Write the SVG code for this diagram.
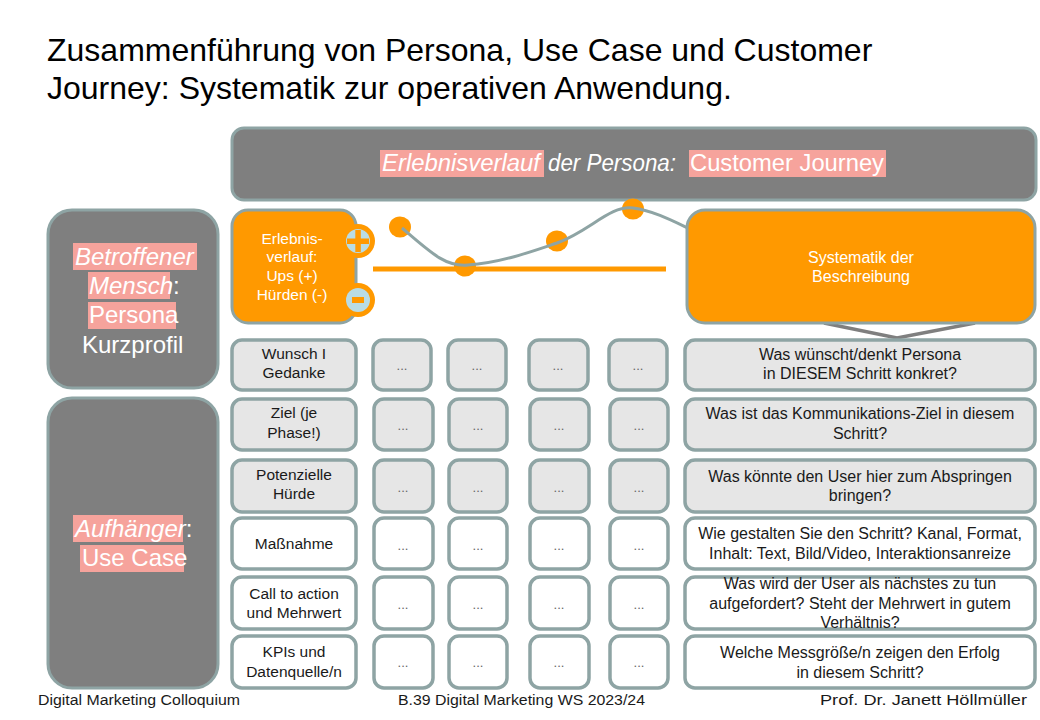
<svg xmlns="http://www.w3.org/2000/svg" width="1040" height="720" viewBox="0 0 1040 720">
<style>
text{font-family:"Liberation Sans",Arial,sans-serif}
.gbox{fill:#7F7F7F;stroke:#8EA4A4;stroke-width:3}
.obox{fill:#FF9900;stroke:#8EA4A4;stroke-width:3}
.lbox{fill:#E6E6E6;stroke:#8EA4A4;stroke-width:3.5}
.wbox{fill:#FFFFFF;stroke:#8EA4A4;stroke-width:3.5}
.hl{fill:#F6A39C}
.wt{fill:#FFFFFF}
.lab{font-size:15.5px;fill:#1A1A1A;text-anchor:middle}
.dots{font-size:13px;fill:#666666;text-anchor:middle}
.q{font-size:16px;fill:#1A1A1A;text-anchor:middle}
.foot{font-size:15.5px;fill:#1A1A1A}
.odot{fill:#FF9900}
.big{font-size:24px;fill:#FFFFFF}
</style>
<rect width="1040" height="720" fill="#FFFFFF"/>
<g id="title">
<text x="47" y="61" font-size="32" fill="#000">Zusammenführung von Persona, Use Case und Customer</text>
<text x="47" y="99" font-size="32" fill="#000">Journey: Systematik zur operativen  Anwendung.</text>
</g>
<g id="banner">
<rect class="gbox" x="232" y="128" width="804" height="72" rx="12"/>
<rect class="hl" x="380" y="150" width="164" height="27"/>
<rect class="hl" x="689" y="150" width="197" height="27"/>
<text x="382" y="171" font-size="23" class="wt" font-style="italic" textLength="158" lengthAdjust="spacingAndGlyphs">Erlebnisverlauf</text>
<text x="548" y="171" font-size="23" class="wt" font-style="italic" textLength="128" lengthAdjust="spacingAndGlyphs">der Persona:</text>
<text x="690" y="171" font-size="23" class="wt" textLength="194" lengthAdjust="spacingAndGlyphs">Customer Journey</text>
</g>
<g id="persona">
<rect class="gbox" x="48" y="210" width="170" height="178" rx="24"/>
<rect class="hl" x="73" y="243" width="124" height="27"/>
<rect class="hl" x="88" y="272" width="82" height="27"/>
<rect class="hl" x="88" y="302" width="88" height="27"/>
<text x="75" y="265" class="big" font-style="italic">Betroffener</text>
<text x="89" y="294" class="big"><tspan font-style="italic">Mensch</tspan>:</text>
<text x="89" y="323" class="big">Persona</text>
<text x="82" y="353" class="big">Kurzprofil</text>
</g>
<g id="usecase">
<rect class="gbox" x="48" y="398" width="170" height="290" rx="24"/>
<rect class="hl" x="73" y="515" width="110" height="27"/>
<rect class="hl" x="80" y="545" width="104" height="27"/>
<text x="75" y="537" class="big"><tspan font-style="italic">Aufhänger</tspan>:</text>
<text x="82" y="566" class="big">Use Case</text>
</g>
<g id="journey-curve">
<line x1="373" y1="269" x2="666" y2="269" stroke="#FF9900" stroke-width="5"/>
<ellipse class="odot" cx="400" cy="227" rx="11" ry="10.5"/>
<ellipse class="odot" cx="465" cy="266" rx="11" ry="10.5"/>
<ellipse class="odot" cx="557" cy="241" rx="11" ry="10.5"/>
<ellipse class="odot" cx="633" cy="209" rx="11" ry="10.5"/>
<path d="M402,228 C430,252 445,267 468,265 C500,263 530,252 557,243 C590,231 610,205 633,208 C655,211 675,222 692,230" fill="none" stroke="#8EA4A4" stroke-width="3"/>
</g>
<g id="erlebnisverlauf">
<rect class="obox" x="232" y="210" width="124" height="113" rx="16"/>
<text x="292" y="244" font-size="15.5" text-anchor="middle" class="wt">Erlebnis-</text>
<text x="292" y="262" font-size="15.5" text-anchor="middle" class="wt">verlauf:</text>
<text x="292" y="281" font-size="15.5" text-anchor="middle" class="wt">Ups (+)</text>
<text x="292" y="300" font-size="15.5" text-anchor="middle" class="wt">Hürden (-)</text>
<circle cx="358" cy="241" r="17" fill="#FF9900"/>
<circle cx="358" cy="241" r="12" fill="#B9DCE4"/>
<rect x="347" y="238.5" width="22" height="5.5" fill="#FF9900"/>
<rect x="355.3" y="230" width="5.5" height="22" fill="#FF9900"/>
<circle cx="358" cy="300" r="17" fill="#FF9900"/>
<circle cx="358" cy="300" r="12" fill="#B9DCE4"/>
<rect x="352" y="297" width="12" height="6" fill="#FF9900"/>
</g>
<g id="systematik">
<polyline points="824,323 897,338 975,323" fill="none" stroke="#7F7F7F" stroke-width="3.5"/>
<rect class="obox" x="687" y="210" width="348" height="113" rx="18"/>
<text x="861" y="263" font-size="16" text-anchor="middle" class="wt">Systematik der</text>
<text x="861" y="282" font-size="16" text-anchor="middle" class="wt">Beschreibung</text>
</g>
<g id="row1">
<rect class="lbox" x="232" y="340" width="124" height="50" rx="10"/>
<text class="lab" x="294" y="359">Wunsch I</text>
<text class="lab" x="294" y="378">Gedanke</text>
<rect class="lbox" x="373" y="340" width="58" height="50" rx="10"/><text class="dots" x="402" y="370">...</text>
<rect class="lbox" x="448" y="340" width="58" height="50" rx="10"/><text class="dots" x="477" y="370">...</text>
<rect class="lbox" x="529" y="340" width="59" height="50" rx="10"/><text class="dots" x="558" y="370">...</text>
<rect class="lbox" x="609" y="340" width="58" height="50" rx="10"/><text class="dots" x="638" y="370">...</text>
<rect class="lbox" x="685" y="340" width="350" height="50" rx="10"/>
<text class="q" x="860" y="360">Was wünscht/denkt  Persona</text>
<text class="q" x="860" y="379">in DIESEM Schritt konkret?</text>
</g>
<g id="row2">
<rect class="lbox" x="232" y="399" width="124" height="51" rx="10"/>
<text class="lab" x="294" y="418">Ziel (je</text>
<text class="lab" x="294" y="438">Phase!)</text>
<rect class="lbox" x="374" y="399" width="59" height="51" rx="10"/><text class="dots" x="403" y="430">...</text>
<rect class="lbox" x="449" y="399" width="58" height="51" rx="10"/><text class="dots" x="478" y="430">...</text>
<rect class="lbox" x="530" y="399" width="59" height="51" rx="10"/><text class="dots" x="559" y="430">...</text>
<rect class="lbox" x="610" y="399" width="58" height="51" rx="10"/><text class="dots" x="639" y="430">...</text>
<rect class="lbox" x="685" y="399" width="350" height="51" rx="10"/>
<text class="q" x="860" y="419">Was ist das Kommunikations-Ziel in diesem</text>
<text class="q" x="860" y="439">Schritt?</text>
</g>
<g id="row3">
<rect class="lbox" x="232" y="460" width="124" height="52" rx="10"/>
<text class="lab" x="294" y="480">Potenzielle</text>
<text class="lab" x="294" y="499">Hürde</text>
<rect class="lbox" x="374" y="460" width="59" height="52" rx="10"/><text class="dots" x="403" y="492">...</text>
<rect class="lbox" x="449" y="460" width="58" height="52" rx="10"/><text class="dots" x="478" y="492">...</text>
<rect class="lbox" x="530" y="460" width="59" height="52" rx="10"/><text class="dots" x="559" y="492">...</text>
<rect class="lbox" x="610" y="460" width="58" height="52" rx="10"/><text class="dots" x="639" y="492">...</text>
<rect class="lbox" x="685" y="460" width="350" height="52" rx="10"/>
<text class="q" x="860" y="482">Was könnte den User hier zum Abspringen</text>
<text class="q" x="860" y="501">bringen?</text>
</g>
<g id="row4">
<rect class="wbox" x="232" y="518" width="124" height="51" rx="10"/>
<text class="lab" x="294" y="549">Maßnahme</text>
<rect class="wbox" x="374" y="518" width="59" height="51" rx="10"/><text class="dots" x="403" y="550">...</text>
<rect class="wbox" x="449" y="518" width="58" height="51" rx="10"/><text class="dots" x="478" y="550">...</text>
<rect class="wbox" x="530" y="518" width="59" height="51" rx="10"/><text class="dots" x="559" y="550">...</text>
<rect class="wbox" x="610" y="518" width="58" height="51" rx="10"/><text class="dots" x="639" y="550">...</text>
<rect class="wbox" x="685" y="518" width="350" height="51" rx="10"/>
<text class="q" x="860" y="539">Wie gestalten Sie den Schritt? Kanal, Format,</text>
<text class="q" x="860" y="559">Inhalt:  Text,  Bild/Video, Interaktionsanreize</text>
</g>
<g id="row5">
<rect class="wbox" x="232" y="577" width="124" height="52" rx="10"/>
<text class="lab" x="294" y="599">Call to action</text>
<text class="lab" x="294" y="618">und Mehrwert</text>
<rect class="wbox" x="374" y="577" width="59" height="52" rx="10"/><text class="dots" x="403" y="609">...</text>
<rect class="wbox" x="449" y="577" width="58" height="52" rx="10"/><text class="dots" x="478" y="609">...</text>
<rect class="wbox" x="530" y="577" width="59" height="52" rx="10"/><text class="dots" x="559" y="609">...</text>
<rect class="wbox" x="610" y="577" width="58" height="52" rx="10"/><text class="dots" x="639" y="609">...</text>
<rect class="wbox" x="685" y="577" width="350" height="52" rx="10"/>
<text class="q" x="860" y="589">Was wird der User als nächstes zu tun</text>
<text class="q" x="860" y="609">aufgefordert? Steht der Mehrwert in gutem</text>
<text class="q" x="860" y="628">Verhältnis?</text>
</g>
<g id="row6">
<rect class="wbox" x="232" y="636" width="124" height="52" rx="10"/>
<text class="lab" x="294" y="657">KPIs und</text>
<text class="lab" x="294" y="677">Datenquelle/n</text>
<rect class="wbox" x="374" y="636" width="59" height="52" rx="10"/><text class="dots" x="403" y="667">...</text>
<rect class="wbox" x="449" y="636" width="58" height="52" rx="10"/><text class="dots" x="478" y="667">...</text>
<rect class="wbox" x="530" y="636" width="59" height="52" rx="10"/><text class="dots" x="559" y="667">...</text>
<rect class="wbox" x="610" y="636" width="58" height="52" rx="10"/><text class="dots" x="639" y="667">...</text>
<rect class="wbox" x="685" y="636" width="350" height="52" rx="10"/>
<text class="q" x="860" y="658">Welche Messgröße/n zeigen den Erfolg</text>
<text class="q" x="860" y="678">in diesem Schritt?</text>
</g>
<g id="footer">
<text class="foot" x="38" y="705" textLength="202" lengthAdjust="spacingAndGlyphs">Digital Marketing Colloquium</text>
<text class="foot" x="398" y="705" textLength="247" lengthAdjust="spacingAndGlyphs">B.39 Digital Marketing WS 2023/24</text>
<text class="foot" x="820" y="705" textLength="207" lengthAdjust="spacingAndGlyphs">Prof. Dr. Janett Höllmüller</text>
</g>
</svg>
